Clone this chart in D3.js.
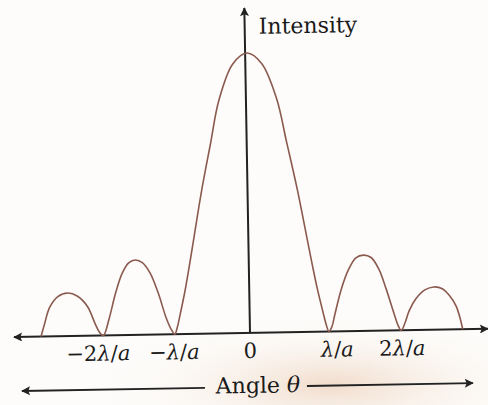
<!DOCTYPE html>
<html>

<head>
    <title>Single slit diffraction intensity</title>
    <script src="https://cdn.jsdelivr.net/npm/d3@7"></script>
    <style>
        body {
            margin: 0;
            background: #fdfcfa;
        }

        text {
            font-family: 'DejaVu Serif', 'Liberation Serif', serif;
            fill: #1a1a1a;
        }
    </style>
</head>

<body>
    <div id="visDiv"></div>
</body>
<script>
    /* Data: angle in units of lambda/a, intensity relative to central maximum */
    var angles = [-2.75, -2.70, -2.63, -2.52, -2.39, -2.26, -2.13, -2.04, -1.98, -1.93,
        -1.85, -1.76, -1.67, -1.58, -1.49, -1.40, -1.30, -1.20, -1.10, -1.03, -0.99,
        -0.955, -0.915, -0.845, -0.785, -0.725, -0.605, -0.475, -0.355, -0.165, 0.025,
        0.215, 0.405, 0.525, 0.655, 0.775, 0.835, 0.895, 0.965, 1.005, 1.04,
        1.08, 1.12, 1.21, 1.31, 1.41, 1.51, 1.61, 1.71, 1.80, 1.90, 1.95, 1.99,
        2.04, 2.10, 2.19, 2.31, 2.43, 2.54, 2.63, 2.72, 2.80];
    var intensity = [0, 0.046, 0.104, 0.142, 0.154, 0.142, 0.104, 0.046, 0.012, 0,
        0.06, 0.15, 0.22, 0.258, 0.268, 0.258, 0.22, 0.15, 0.06, 0.015, 0,
        0.025, 0.07, 0.155, 0.24, 0.33, 0.51, 0.68, 0.834, 0.962, 1.0,
        0.962, 0.834, 0.68, 0.51, 0.33, 0.24, 0.155, 0.07, 0.025, 0,
        0.018, 0.06, 0.15, 0.22, 0.262, 0.271, 0.262, 0.22, 0.15, 0.06, 0.018, 0,
        0.025, 0.07, 0.112, 0.143, 0.153, 0.146, 0.122, 0.082, 0];
    var tickValues = [-2, -1, 0, 1, 2];
    var tickLabels = ["\u22122\u03bb/a", "\u2212\u03bb/a", "0", "\u03bb/a", "2\u03bb/a"];

    var data = angles.map(function (a, i) { return { angle: a, value: intensity[i] }; });

    /* Layout */
    var width = 488, height = 405;
    var origin = { x: 250, y: 333 };

    var svg = d3.select("#visDiv")
        .append("svg")
        .attr("width", width)
        .attr("height", height);

    // paper tint near the bottom
    var defs = svg.append("defs");
    var grad = defs.append("radialGradient")
        .attr("id", "tint")
        .attr("cx", "0.5").attr("cy", "0.5").attr("r", "0.5");
    grad.append("stop").attr("offset", "0%").attr("stop-color", "#f1dccb");
    grad.append("stop").attr("offset", "100%").attr("stop-color", "#fdfcfa").attr("stop-opacity", 0);
    svg.append("ellipse")
        .attr("cx", 330).attr("cy", 385)
        .attr("rx", 240).attr("ry", 70)
        .attr("fill", "url(#tint)");

    defs.append("marker")
        .attr("id", "arrow")
        .attr("viewBox", "0 0 10 10")
        .attr("refX", 9).attr("refY", 5)
        .attr("markerWidth", 11).attr("markerHeight", 9)
        .attr("markerUnits", "userSpaceOnUse")
        .attr("orient", "auto-start-reverse")
        .append("path")
        .attr("d", "M0,0 L10,5 L0,10 L2,5 Z")
        .attr("fill", "#222");

    // the scan is tilted by about one degree
    var g = svg.append("g")
        .attr("transform", "translate(" + origin.x + "," + origin.y + ") rotate(-1)");

    /* Scales */
    var x = d3.scaleLinear().domain([-1, 1]).range([-76, 76]);
    var y = d3.scaleLinear().domain([0, 1]).range([0, -280]);

    /* Axes */
    g.append("line")
        .attr("x1", -236).attr("x2", 238)
        .attr("y1", 0).attr("y2", 0)
        .attr("stroke", "#222").attr("stroke-width", 2)
        .attr("marker-start", "url(#arrow)")
        .attr("marker-end", "url(#arrow)");

    g.append("line")
        .attr("x1", x(0)).attr("x2", x(0))
        .attr("y1", 0).attr("y2", -325)
        .attr("stroke", "#222").attr("stroke-width", 2)
        .attr("marker-end", "url(#arrow)");

    /* Curve */
    g.append("path")
        .datum(data)
        .attr("fill", "none")
        .attr("stroke", "#8a5a4e")
        .attr("stroke-width", 1.6)
        .attr("d", d3.line()
            .x(function (d) { return x(d.angle); })
            .y(function (d) { return y(d.value); })
            .curve(d3.curveCatmullRom.alpha(0.5)));

    /* Tick labels */
    g.selectAll(".tick-label")
        .data(tickValues)
        .enter()
        .append("text")
        .attr("class", "tick-label")
        .attr("x", function (d) { return x(d) + (d === 1 ? 11 : 0); })
        .attr("y", 25)
        .attr("text-anchor", "middle")
        .style("font-size", "21px")
        .each(function (d, i) {
            var t = d3.select(this);
            var parts = tickLabels[i].split(/(\u03bb|a)/);
            parts.forEach(function (p) {
                if (p === "") return;
                t.append("tspan")
                    .style("font-style", (p === "\u03bb" || p === "a") ? "italic" : "normal")
                    .text(p);
            });
        });

    /* Axis titles */
    g.append("text")
        .attr("x", 14).attr("y", -299)
        .style("font-size", "22px")
        .text("Intensity");

    var angleText = g.append("text")
        .attr("x", 7).attr("y", 60)
        .attr("text-anchor", "middle")
        .style("font-size", "22px");
    angleText.append("tspan").text("Angle ");
    angleText.append("tspan").style("font-style", "italic").text("\u03b8");

    g.append("line")
        .attr("x1", -46).attr("x2", -229)
        .attr("y1", 54).attr("y2", 54)
        .attr("stroke", "#222").attr("stroke-width", 1.8)
        .attr("marker-end", "url(#arrow)");
    g.append("line")
        .attr("x1", 56).attr("x2", 222)
        .attr("y1", 54).attr("y2", 54)
        .attr("stroke", "#222").attr("stroke-width", 1.8)
        .attr("marker-end", "url(#arrow)");
</script>

</html>
